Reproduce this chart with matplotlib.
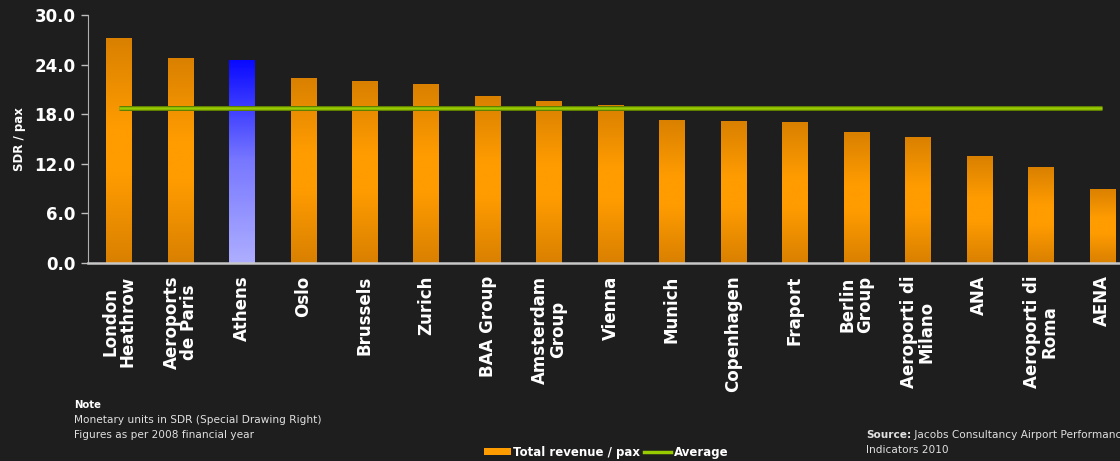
import numpy as np
import matplotlib
matplotlib.use("Agg")
import matplotlib.pyplot as plt
from matplotlib.colors import LinearSegmentedColormap
from matplotlib.lines import Line2D
from matplotlib.patches import Patch

categories = ["London\nHeathrow", "Aeroports\nde Paris", "Athens", "Oslo", "Brussels",
              "Zurich", "BAA Group", "Amsterdam\nGroup", "Vienna", "Munich",
              "Copenhagen", "Fraport", "Berlin\nGroup", "Aeroporti di\nMilano", "ANA",
              "Aeroporti di\nRoma", "AENA"]
revenue = [27.2, 24.8, 24.6, 22.4, 22.0, 21.7, 20.2, 19.6, 19.1, 17.3,
           17.2, 17.0, 15.8, 15.3, 12.9, 11.6, 9.0]
average = 18.75
highlight = "Athens"
yticks = [0.0, 6.0, 12.0, 18.0, 24.0, 30.0]

BG = "#1e1e1e"
fig = plt.figure(figsize=(11.2, 4.61), dpi=100, facecolor=BG)
# axes extends past right edge (chart is cropped in reference)
left_px, right_px, bottom_px, top_px = 88, 1133, 263, 15
W, H = 1120, 461
ax = fig.add_axes([left_px / W, 1 - bottom_px / H, (right_px - left_px) / W, (bottom_px - top_px) / H])
ax.set_facecolor(BG)

x = np.arange(len(categories))
bars = ax.bar(x, revenue, width=0.41, color="none", edgecolor="none", zorder=2)

orange_cmap = LinearSegmentedColormap.from_list(
    "o", [(0, "#d98000"), (0.4, "#ff9c00"), (0.6, "#ff9c00"), (1, "#d98000")])
blue_cmap = LinearSegmentedColormap.from_list("b", ["#aeaeff", "#7878ff", "#0808ff"])
grad = np.linspace(0, 1, 256).reshape(-1, 1)
for b, name in zip(bars, categories):
    x0, y0 = b.get_x(), b.get_y()
    w, h = b.get_width(), b.get_height()
    cmap = blue_cmap if name == highlight else orange_cmap
    im = ax.imshow(grad, cmap=cmap, aspect="auto", origin="lower",
                   extent=[x0, x0 + w, y0, y0 + h], zorder=2, interpolation="bicubic")
    im.set_clip_path(b)

ax.plot([x[0], x[-1]], [average, average], color="#5f7f00", lw=3.6, zorder=3, solid_capstyle="butt")
ax.plot([x[0], x[-1]], [average, average], color="#99cc00", lw=1.8, zorder=4, solid_capstyle="butt")

ax.set_xlim(-0.5, len(categories) - 0.5)
ax.set_ylim(0, 30)
ax.set_yticks(yticks)
ax.set_yticklabels([f"{v:.1f}" for v in yticks], color="white", fontsize=12, fontweight="bold")
ax.set_xticks(x)
ax.set_xticklabels(categories, rotation=90, color="white", fontsize=12, fontweight="bold",
                   multialignment="center", linespacing=0.95)
ax.tick_params(axis="x", length=0, pad=9)
ax.tick_params(axis="y", length=5, color="#c0c0c0", width=1, pad=4)
for s in ["top", "right"]:
    ax.spines[s].set_visible(False)
ax.spines["left"].set_color("#b0b0b0")
ax.spines["bottom"].set_color("#c8c8c8")
ax.spines["bottom"].set_linewidth(1.8)
ax.set_ylabel("SDR / pax", color="white", fontsize=8.5, fontweight="bold", labelpad=6)

fig.text(74 / W, 1 - 405 / H, "Note", color="white", fontsize=7.3, fontweight="bold", va="center")
fig.text(74 / W, 1 - 420 / H, "Monetary units in SDR (Special Drawing Right)", color="#e0e0e0", fontsize=7.6, va="center")
fig.text(74 / W, 1 - 435 / H, "Figures as per 2008 financial year", color="#e0e0e0", fontsize=7.6, va="center")

src = fig.text(866 / W, 1 - 435 / H, "Source:", color="#e0e0e0", fontsize=7.6, fontweight="bold", va="center")
ax.annotate(" Jacobs Consultancy Airport Performance", xy=(1, 0.5), xycoords=src, va="center", ha="left",
            color="#e0e0e0", fontsize=7.6, annotation_clip=False)
fig.text(866 / W, 1 - 450 / H, "Indicators 2010", color="#e0e0e0", fontsize=7.6, va="center")

handles = [Patch(facecolor="#ff9c00", edgecolor="none"),
           Line2D([0], [0], color="#99cc00", lw=2.5)]
leg = fig.legend(handles, ["Total revenue / pax", "Average"], loc="center", bbox_to_anchor=(606 / W, 1 - 452 / H),
                 ncol=2, frameon=False, fontsize=8.5, handlelength=2.3, handleheight=0.5,
                 columnspacing=0.3, handletextpad=0.2, borderaxespad=0)
for t in leg.get_texts():
    t.set_color("white")
    t.set_fontweight("bold")

fig.savefig("out.png", dpi=100, facecolor=BG)
